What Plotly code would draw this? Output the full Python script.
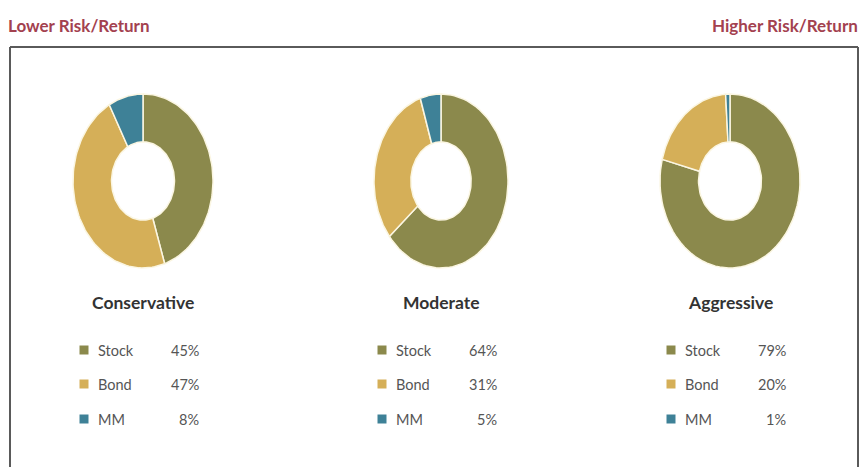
import math
import plotly.graph_objects as go

# ---- data ----
portfolios = ["Conservative", "Moderate", "Aggressive"]
assets = ["Stock", "Bond", "MM"]
stock_pct = [45, 64, 79]
bond_pct = [47, 31, 20]
mm_pct = [8, 5, 1]
left_label = "Lower Risk/Return"
right_label = "Higher Risk/Return"

# ---- style / layout ----
colors = {"Stock": "#8b894c", "Bond": "#d5af58", "MM": "#3e8197"}
W, H = 862, 467
centers_x = [143, 441, 730]
center_y = 181
rx_out = [70, 67, 70]
ry_out = 87
hole_ratio = 0.45
title_y = 302
row_y = [350, 384, 419]
marker_dx = -59
label_dx = -47
pct_dx = 58
FONT = "Lato, 'Open Sans', sans-serif"

values = {"Stock": stock_pct, "Bond": bond_pct, "MM": mm_pct}

fig = go.Figure()

def wedge(cx, cy, rx, ry, ratio, a0, a1, n=80):
    xs, ys = [], []
    for i in range(n + 1):
        t = a0 + (a1 - a0) * i / n
        xs.append(cx + rx * math.sin(t))
        ys.append(cy - ry * math.cos(t))
    for i in range(n + 1):
        t = a1 - (a1 - a0) * i / n
        xs.append(cx + rx * ratio * math.sin(t))
        ys.append(cy - ry * ratio * math.cos(t))
    xs.append(xs[0]); ys.append(ys[0])
    return xs, ys

for p, name in enumerate(portfolios):
    total = sum(values[a][p] for a in assets)
    start = 0.0
    for a in assets:
        v = values[a][p]
        end = start + 2 * math.pi * v / total
        xs, ys = wedge(centers_x[p], center_y, rx_out[p], ry_out, hole_ratio, start, end)
        fig.add_trace(go.Scatter(
            x=xs, y=ys, mode="lines", fill="toself", fillcolor=colors[a],
            line=dict(color="#fbf6e2", width=1.5), hoverinfo="text",
            text=f"{name} {a}: {v}%", showlegend=False))
        start = end
    # title
    fig.add_annotation(x=centers_x[p], y=title_y, text=f"<b>{name}</b>",
                       showarrow=False, font=dict(family=FONT, size=17.5, color="#333333"),
                       xanchor="center", yanchor="middle")
    # legend rows
    fig.add_trace(go.Scatter(
        x=[centers_x[p] + marker_dx] * len(assets), y=row_y, mode="markers",
        marker=dict(symbol="square", size=9, color=[colors[a] for a in assets]),
        hoverinfo="skip", showlegend=False))
    for i, a in enumerate(assets):
        fig.add_annotation(x=centers_x[p] + label_dx, y=row_y[i], text=a,
                           showarrow=False, xanchor="left", yanchor="middle",
                           font=dict(family=FONT, size=14.5, color="#555555"))
        fig.add_annotation(x=centers_x[p] + pct_dx, y=row_y[i], text=f"{values[a][p]}%",
                           showarrow=False, xanchor="right", yanchor="middle",
                           font=dict(family=FONT, size=14.5, color="#555555"))

# header labels
fig.add_annotation(x=6, y=25, text=f"<b>{left_label}</b>", showarrow=False,
                   xanchor="left", yanchor="middle",
                   font=dict(family=FONT, size=17, color="#a3414f"))
fig.add_annotation(x=860, y=25, text=f"<b>{right_label}</b>", showarrow=False,
                   xanchor="right", yanchor="middle",
                   font=dict(family=FONT, size=17, color="#a3414f"))

# frame (left, top, right)
line = dict(color="#5a5a5a", width=2)
fig.add_shape(type="line", x0=10, x1=10, y0=47, y1=H + 5, line=line)
fig.add_shape(type="line", x0=10, x1=858, y0=47, y1=47, line=line)
fig.add_shape(type="line", x0=858, x1=858, y0=47, y1=H + 5, line=line)

fig.update_layout(
    width=W, height=H, margin=dict(l=0, r=0, t=0, b=0),
    paper_bgcolor="white", plot_bgcolor="white",
    xaxis=dict(range=[0, W], visible=False, fixedrange=True),
    yaxis=dict(range=[H, 0], visible=False, fixedrange=True),
    showlegend=False,
)

fig.write_html("out.html")
